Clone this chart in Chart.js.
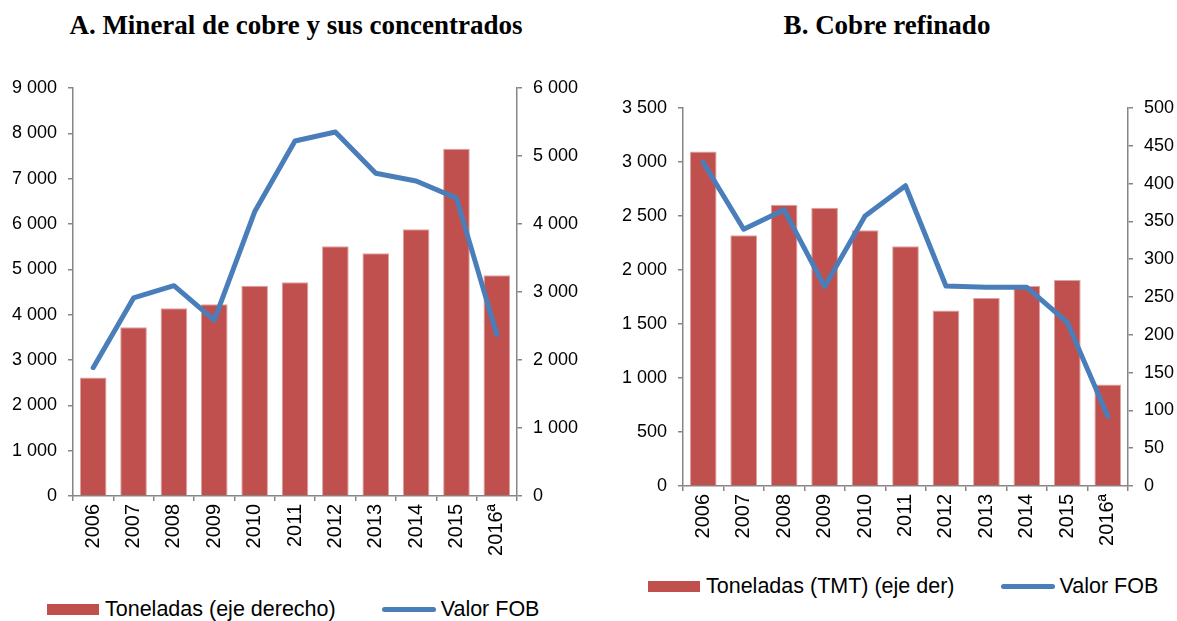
<!DOCTYPE html>
<html>
<head>
<meta charset="utf-8">
<script src="https://cdn.jsdelivr.net/npm/chart.js@4"></script>
<style>
  body { margin: 0; background: #fff; width: 1177px; height: 621px; position: relative; overflow: hidden; }
  .panel { position: absolute; top: 0; }
  .titulo { position: absolute; font: bold 27px "Liberation Serif", "Times New Roman", serif; color: #000; white-space: nowrap; transform: translateX(-50%); }
  .leyenda { position: absolute; display: flex; align-items: center; font: 21.5px "Liberation Sans", Arial, sans-serif; color: #000; white-space: nowrap; }
  .caja { width: 52px; height: 11px; background: #C0504D; margin-right: 6px; }
  .linea { width: 54px; height: 5px; border-radius: 3px; background: #4A7EBB; margin-right: 5px; }
</style>
</head>
<body>
<div class="titulo" style="left:296px; top:10px;">A. Mineral de cobre y sus concentrados</div>
<div class="titulo" style="left:887px; top:10px;">B. Cobre refinado</div>

<canvas id="graficoA" class="panel" style="left:0px" width="590" height="570"></canvas>
<canvas id="graficoB" class="panel" style="left:590px" width="587" height="570"></canvas>

<div class="leyenda" style="left:47px; top:597px;">
  <div class="caja"></div><span>Toneladas (eje derecho)</span>
  <div class="linea" style="margin-left:46px"></div><span>Valor FOB</span>
</div>
<div class="leyenda" style="left:648px; top:574px;">
  <div class="caja"></div><span>Toneladas (TMT) (eje der)</span>
  <div class="linea" style="margin-left:46px"></div><span>Valor FOB</span>
</div>

<script>
const anios = ["2006", "2007", "2008", "2009", "2010", "2011", "2012", "2013", "2014", "2015", "2016ª"];

// A. Mineral de cobre y sus concentrados
const toneladasA = [1744, 2480, 2760, 2819, 3093, 3143, 3673, 3570, 3923, 5106, 3246];
const valorFobA = [2830, 4370, 4640, 3880, 6270, 7830, 8030, 7120, 6950, 6570, 3560];

// B. Cobre refinado
const toneladasB = [442.6, 331.7, 371.9, 367.9, 338.3, 317.1, 232.3, 248.7, 264.6, 272.5, 134.3];
const valorFobB = [2996, 2378, 2557, 1846, 2501, 2780, 1852, 1840, 1840, 1515, 646];

const ROJO = "#C0504D";
const AZUL = "#4A7EBB";
const GRIS = "#868686";

function miles(v) {
  return String(v).replace(/\B(?=(\d{3})+(?!\d))/g, " ");
}

function ejeY(pos, max, paso, ancho) {
  return {
    position: pos,
    min: 0,
    max: max,
    afterFit: (s) => { s.width = ancho; },
    border: { color: GRIS, width: 1.5 },
    grid: { drawOnChartArea: false, drawTicks: true, tickLength: 5, color: GRIS, lineWidth: 1.5 },
    ticks: {
      stepSize: paso,
      padding: 11,
      color: "#000",
      font: { family: "Liberation Sans", size: 18 },
      callback: (v) => miles(v),
    },
  };
}

function crearGrafico(id, toneladas, valores, cfg) {
  const ctx = document.getElementById(id).getContext("2d");
  return new Chart(ctx, {
    type: "bar",
    data: {
      labels: anios,
      datasets: [
        {
          type: "line",
          label: "Valor FOB",
          data: valores,
          yAxisID: "y",
          borderColor: AZUL,
          borderWidth: 5,
          pointRadius: 0,
          tension: 0,
          borderCapStyle: "round",
          borderJoinStyle: "round",
          order: 0,
        },
        {
          type: "bar",
          label: cfg.etiquetaBarras,
          data: toneladas,
          yAxisID: "y1",
          backgroundColor: ROJO,
          borderColor: "#dba3a1",
          borderWidth: 1,
          barPercentage: 1,
          categoryPercentage: 0.66,
          order: 1,
        },
      ],
    },
    options: {
      responsive: false,
      animation: false,
      devicePixelRatio: 1,
      layout: { padding: { top: cfg.arriba, left: 0, right: 0, bottom: 0 } },
      plugins: { legend: { display: false }, tooltip: { enabled: false } },
      scales: {
        x: {
          afterFit: (s) => { s.height = cfg.altoX; },
          border: { color: GRIS, width: 1.5 },
          grid: { drawOnChartArea: false, drawTicks: true, tickLength: 5, color: GRIS, lineWidth: 1.5, offset: true },
          ticks: {
            autoSkip: false,
            minRotation: 90,
            maxRotation: 90,
            padding: 3,
            color: "#000",
            font: { family: "Liberation Sans", size: 20 },
          },
        },
        y: ejeY("left", cfg.maxIzq, cfg.pasoIzq, cfg.anchoIzq),
        y1: ejeY("right", cfg.maxDer, cfg.pasoDer, cfg.anchoDer),
      },
    },
  });
}

crearGrafico("graficoA", toneladasA, valorFobA, {
  etiquetaBarras: "Toneladas (eje derecho)",
  arriba: 88, altoX: 74,
  maxIzq: 9000, pasoIzq: 1000, anchoIzq: 73,
  maxDer: 6000, pasoDer: 1000, anchoDer: 73,
});

crearGrafico("graficoB", toneladasB, valorFobB, {
  etiquetaBarras: "Toneladas (TMT) (eje der)",
  arriba: 108, altoX: 84,
  maxIzq: 3500, pasoIzq: 500, anchoIzq: 93,
  maxDer: 500, pasoDer: 50, anchoDer: 49,
});
</script>
</body>
</html>
